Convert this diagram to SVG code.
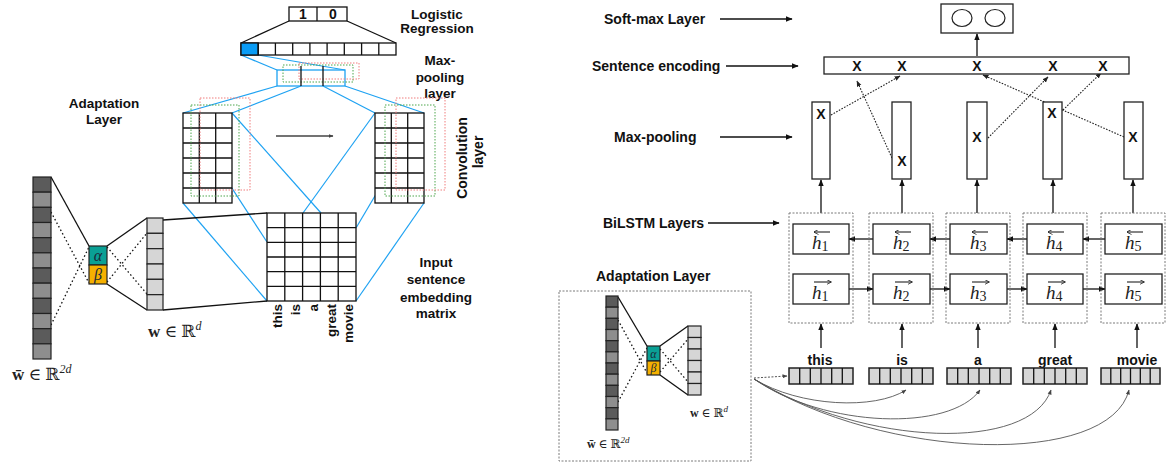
<svg xmlns="http://www.w3.org/2000/svg" width="1166" height="463" viewBox="0 0 1166 463">
<style>
  .lbl { font-family: "Liberation Sans", Arial, sans-serif; font-weight: bold; font-size: 14px; fill: #111; }
  .lbl13 { font-family: "Liberation Sans", Arial, sans-serif; font-weight: bold; font-size: 13.5px; fill: #111; }
  .xm { font-family: "Liberation Sans", Arial, sans-serif; font-weight: bold; font-size: 14px; fill: #111; text-anchor: middle; }
  .math { font-family: "Liberation Serif", "DejaVu Serif", serif; fill: #222; }
  .greek { font-family: "Liberation Serif", "DejaVu Serif", serif; font-style: italic; fill: #1a2a3a; text-anchor: middle; }
  .hv { font-family: "Liberation Serif", "DejaVu Serif", serif; font-style: italic; font-size: 19px; fill: #222; }
  .cell { fill: #fff; stroke: #111; stroke-width: 1.3; }
  .grid { stroke: #111; stroke-width: 1.3; fill: none; }
  .blue { stroke: #1ea2f2; stroke-width: 1.2; fill: none; }
  .blk { stroke: #111; stroke-width: 1.3; fill: none; }
  .dot { stroke: #111; stroke-width: 1.3; stroke-dasharray: 1.5 2.5; fill: none; }
  .dotarr { stroke: #222; stroke-width: 1.1; stroke-dasharray: 1.6 1.4; fill: none; }
  .grn { stroke: #4ca64c; stroke-width: 1; stroke-dasharray: 1.5 1.5; fill: none; }
  .red { stroke: #f07c7c; stroke-width: 1; stroke-dasharray: 1.5 1.5; fill: none; }
  .dk { fill: #5b5b5b; stroke: #222; stroke-width: 1.2; }
  .md { fill: #8e8e8e; stroke: #222; stroke-width: 1.2; }
  .lt { fill: #d6d6d6; stroke: #222; stroke-width: 1.2; }
  .alpha { fill: #0aa095; stroke: #222; stroke-width: 1.2; }
  .beta { fill: #f5b000; stroke: #222; stroke-width: 1.2; }
  .grp { fill: none; stroke: #7a7a7a; stroke-width: 1; stroke-dasharray: 2 1.5; }
  .box { fill: #fff; stroke: #222; stroke-width: 1.3; }
  .tok { fill: #d6d6d6; stroke: #222; stroke-width: 1.5; }
  .curve { stroke: #555; stroke-width: 0.9; fill: none; }
</style>
<defs>
  <marker id="ah" viewBox="0 0 10 10" refX="9" refY="5" markerWidth="7" markerHeight="7" markerUnits="userSpaceOnUse" orient="auto">
    <path d="M0,1 L10,5 L0,9 z" fill="#111"/>
  </marker>
  <marker id="ahs" viewBox="0 0 10 10" refX="9" refY="5" markerWidth="6" markerHeight="6" markerUnits="userSpaceOnUse" orient="auto">
    <path d="M0,1 L10,5 L0,9 z" fill="#222"/>
  </marker>
  <marker id="acc" viewBox="0 0 10 10" refX="9" refY="5" markerWidth="5" markerHeight="5" markerUnits="userSpaceOnUse" orient="auto">
    <path d="M0,0 L10,5 L0,10" fill="none" stroke="#222" stroke-width="1.6"/>
  </marker>
  <marker id="ahg" viewBox="0 0 10 10" refX="9" refY="5" markerWidth="5" markerHeight="5" markerUnits="userSpaceOnUse" orient="auto">
    <path d="M0,1 L10,5 L0,9 z" fill="#444"/>
  </marker>
</defs>

<!-- ============ Left panel: CNN classifier ============ -->
<g id="left-connectors">
  <!-- output box to feature row -->
  <line class="blk" x1="289" y1="21" x2="241" y2="43"/>
  <line class="blk" x1="347" y1="21" x2="396" y2="43"/>
  <!-- pooled cell to max-pooling block -->
  <line class="blue" x1="241" y1="55" x2="277" y2="70"/>
  <line class="blue" x1="258" y1="55" x2="345" y2="70"/>
  <!-- max-pooling block to feature maps -->
  <line class="blue" x1="277" y1="86" x2="183" y2="113"/>
  <line class="blue" x1="301" y1="86" x2="232" y2="113"/>
  <line class="blue" x1="323" y1="86" x2="375" y2="113"/>
  <line class="blue" x1="345" y1="86" x2="424" y2="113"/>
  <!-- feature maps to input matrix -->
  <line class="blue" x1="232" y1="113" x2="321" y2="213"/>
  <line class="blue" x1="183" y1="113" x2="267" y2="242"/>
  <line class="blue" x1="183" y1="203" x2="267" y2="301"/>
  <line class="blue" x1="375" y1="113" x2="303" y2="213"/>
  <line class="blue" x1="424" y1="113" x2="356" y2="228"/>
  <line class="blue" x1="424" y1="203" x2="356" y2="301"/>
  <!-- word vector to input matrix -->
  <line class="blk" x1="163" y1="220" x2="267" y2="213"/>
  <line class="blk" x1="163" y1="310" x2="267" y2="301"/>
  <!-- adaptation layer links -->
  <line class="blk" x1="51" y1="177" x2="89" y2="246"/>
  <line class="blk" x1="107" y1="246" x2="147" y2="218"/>
  <line class="blk" x1="107" y1="284" x2="147" y2="310"/>
  <line class="dot" x1="51" y1="212" x2="89" y2="283"/>
  <line class="dot" x1="51" y1="325" x2="89" y2="247"/>
  <line class="dot" x1="107" y1="247" x2="147" y2="294"/>
  <line class="dot" x1="107" y1="282" x2="147" y2="233"/>
  <!-- sliding direction -->
  <line x1="276" y1="136" x2="333" y2="136" stroke="#444" stroke-width="1.4" marker-end="url(#ahg)"/>
</g>

<g id="logistic-output">
  <rect class="cell" x="289" y="7" width="58" height="14"/>
  <line class="grid" x1="317" y1="7" x2="317" y2="21"/>
  <text class="xm" x="303" y="19">1</text>
  <text class="xm" x="333" y="19">0</text>
  <text class="lbl13" x="437" y="19" text-anchor="middle">Logistic</text>
  <text class="lbl13" x="437" y="33" text-anchor="middle">Regression</text>
</g>

<g id="feature-row">
  <rect class="cell" x="241" y="43" width="155" height="12"/>
  <rect x="241" y="43" width="17.2" height="12" fill="#0a9cf5" stroke="#111" stroke-width="1.3"/>
  <path class="grid" d="M258.2,43V55M275.4,43V55M292.7,43V55M309.9,43V55M327.1,43V55M344.3,43V55M361.6,43V55M378.8,43V55"/>
</g>

<g id="max-pooling">
  <rect x="277" y="70" width="68" height="16" fill="none" stroke="#1ea2f2" stroke-width="1.3"/>
  <rect class="grn" x="283" y="65" width="70" height="17"/>
  <rect class="red" x="299" y="63" width="60" height="16"/>
  <line class="grid" x1="301" y1="66" x2="301" y2="86"/>
  <line class="grid" x1="323" y1="66" x2="323" y2="86"/>
  <text class="lbl13" x="440" y="65" text-anchor="middle">Max-</text>
  <text class="lbl13" x="440" y="82" text-anchor="middle">pooling</text>
  <text class="lbl13" x="440" y="98" text-anchor="middle">layer</text>
</g>

<g id="feature-map-left">
  <rect class="cell" x="183" y="113" width="49" height="90"/>
  <path class="grid" d="M199.3,113V203M215.7,113V203M183,128H232M183,143H232M183,158H232M183,173H232M183,188H232"/>
  <rect class="grn" x="191" y="105" width="48" height="91"/>
  <rect class="red" x="200" y="98" width="50" height="92"/>
</g>

<g id="feature-map-right">
  <rect class="cell" x="375" y="113" width="49" height="90"/>
  <path class="grid" d="M391.3,113V203M407.7,113V203M375,128H424M375,143H424M375,158H424M375,173H424M375,188H424"/>
  <rect class="grn" x="385" y="105" width="50" height="91"/>
  <rect class="red" x="396" y="98" width="49" height="92"/>
  <text class="lbl" transform="translate(467,158) rotate(-90)" text-anchor="middle">Convolution</text>
  <text class="lbl" transform="translate(483,152) rotate(-90)" text-anchor="middle">layer</text>
</g>

<g id="input-matrix">
  <rect class="cell" x="267" y="213" width="89" height="88" fill="none"/>
  <path class="grid" d="M284.8,213V301M302.6,213V301M320.4,213V301M338.2,213V301M267,227.7H356M267,242.3H356M267,257H356M267,271.7H356M267,286.3H356"/>
  <text class="lbl13" transform="translate(282,304) rotate(-90)" text-anchor="end">this</text>
  <text class="lbl13" transform="translate(300,304) rotate(-90)" text-anchor="end">is</text>
  <text class="lbl13" transform="translate(318,304) rotate(-90)" text-anchor="end">a</text>
  <text class="lbl13" transform="translate(336,304) rotate(-90)" text-anchor="end">great</text>
  <text class="lbl13" transform="translate(353,304) rotate(-90)" text-anchor="end">movie</text>
  <text class="lbl13" x="436" y="267" text-anchor="middle">Input</text>
  <text class="lbl13" x="436" y="284" text-anchor="middle">sentence</text>
  <text class="lbl13" x="436" y="302" text-anchor="middle">embedding</text>
  <text class="lbl13" x="436" y="318" text-anchor="middle">matrix</text>
</g>

<g id="adaptation-left">
  <text class="lbl13" x="104" y="108" text-anchor="middle">Adaptation</text>
  <text class="lbl13" x="104" y="124" text-anchor="middle">Layer</text>
  <rect class="dk" x="33" y="177" width="18" height="15.17"/>
  <rect class="md" x="33" y="192.17" width="18" height="15.17"/>
  <rect class="dk" x="33" y="207.33" width="18" height="15.17"/>
  <rect class="md" x="33" y="222.5" width="18" height="15.17"/>
  <rect class="dk" x="33" y="237.67" width="18" height="15.17"/>
  <rect class="md" x="33" y="252.83" width="18" height="15.17"/>
  <rect class="dk" x="33" y="268" width="18" height="15.17"/>
  <rect class="md" x="33" y="283.17" width="18" height="15.17"/>
  <rect class="dk" x="33" y="298.33" width="18" height="15.17"/>
  <rect class="md" x="33" y="313.5" width="18" height="15.17"/>
  <rect class="dk" x="33" y="328.67" width="18" height="15.17"/>
  <rect class="md" x="33" y="343.83" width="18" height="15.17"/>
  <rect class="alpha" x="89" y="246" width="18" height="19"/>
  <rect class="beta" x="89" y="265" width="18" height="19"/>
  <text class="greek" x="98" y="261" font-size="16">α</text>
  <text class="greek" x="98" y="280" font-size="16">β</text>
  <rect class="lt" x="147" y="218" width="16" height="15.33"/>
  <rect class="lt" x="147" y="233.33" width="16" height="15.33"/>
  <rect class="lt" x="147" y="248.67" width="16" height="15.33"/>
  <rect class="lt" x="147" y="264" width="16" height="15.33"/>
  <rect class="lt" x="147" y="279.33" width="16" height="15.33"/>
  <rect class="lt" x="147" y="294.67" width="16" height="15.33"/>
  <text class="math" x="148" y="337" font-size="17"><tspan font-weight="bold">w</tspan> ∈ ℝ<tspan font-size="12" font-style="italic" dy="-7">d</tspan></text>
  <text class="math" x="12" y="380" font-size="17"><tspan font-weight="bold">w̄</tspan> ∈ ℝ<tspan font-size="12" font-style="italic" dy="-7">2d</tspan></text>
</g>

<!-- ============ Right panel: BiLSTM classifier ============ -->
<g id="right-connectors">
  <!-- layer labels pointers -->
  <line class="blk" x1="720" y1="19" x2="792" y2="19" marker-end="url(#ah)"/>
  <line class="blk" x1="726" y1="66" x2="798" y2="66" marker-end="url(#ah)"/>
  <line class="blk" x1="720" y1="137" x2="792" y2="137" marker-end="url(#ah)"/>
  <line class="blk" x1="708" y1="223" x2="779" y2="223" marker-end="url(#ah)"/>
  <!-- encoding to softmax -->
  <line class="blk" x1="977" y1="56" x2="977" y2="34" marker-end="url(#ah)"/>
  <!-- pooled maxima to encoding slots -->
  <line class="dotarr" x1="831" y1="115" x2="900" y2="76" marker-end="url(#ahs)"/>
  <line class="dotarr" x1="892" y1="158" x2="857" y2="81" marker-end="url(#ahs)"/>
  <line class="dotarr" x1="988" y1="138" x2="1048" y2="77" marker-end="url(#ahs)"/>
  <line class="dotarr" x1="1063" y1="110" x2="1101" y2="73" marker-end="url(#ahs)"/>
  <line class="dotarr" x1="1124" y1="137" x2="983" y2="75" marker-end="url(#ahs)"/>
  <!-- BiLSTM to max-pooling -->
  <line class="blk" x1="821" y1="213" x2="821" y2="180" marker-end="url(#ah)"/>
  <line class="blk" x1="902" y1="213" x2="902" y2="180" marker-end="url(#ah)"/>
  <line class="blk" x1="977" y1="213" x2="977" y2="180" marker-end="url(#ah)"/>
  <line class="blk" x1="1053" y1="213" x2="1053" y2="180" marker-end="url(#ah)"/>
  <line class="blk" x1="1133" y1="213" x2="1133" y2="180" marker-end="url(#ah)"/>
  <!-- backward recurrence -->
  <line class="blk" x1="873" y1="239" x2="849" y2="239" marker-end="url(#ah)"/>
  <line class="blk" x1="950" y1="239" x2="930" y2="239" marker-end="url(#ah)"/>
  <line class="blk" x1="1027" y1="239" x2="1007" y2="239" marker-end="url(#ah)"/>
  <line class="blk" x1="1105" y1="239" x2="1083" y2="239" marker-end="url(#ah)"/>
  <!-- forward recurrence -->
  <line class="blk" x1="849" y1="289" x2="873" y2="289" marker-end="url(#ah)"/>
  <line class="blk" x1="930" y1="289" x2="950" y2="289" marker-end="url(#ah)"/>
  <line class="blk" x1="1007" y1="289" x2="1027" y2="289" marker-end="url(#ah)"/>
  <line class="blk" x1="1083" y1="289" x2="1105" y2="289" marker-end="url(#ah)"/>
  <!-- tokens to BiLSTM -->
  <line class="blk" x1="821" y1="348" x2="821" y2="324" marker-end="url(#ah)"/>
  <line class="blk" x1="902" y1="348" x2="902" y2="324" marker-end="url(#ah)"/>
  <line class="blk" x1="978" y1="348" x2="978" y2="324" marker-end="url(#ah)"/>
  <line class="blk" x1="1055" y1="348" x2="1055" y2="324" marker-end="url(#ah)"/>
  <line class="blk" x1="1137" y1="348" x2="1137" y2="324" marker-end="url(#ah)"/>
  <!-- adaptation output to each token vector -->
  <line x1="754" y1="378" x2="787" y2="376" stroke="#555" stroke-width="1" stroke-dasharray="2 1.5" marker-end="url(#ahg)"/>
  <path class="curve" d="M754,379 C800,407 875,410 906,390" marker-end="url(#ahg)"/>
  <path class="curve" d="M754,379 C825,428 950,432 980,390" marker-end="url(#ahg)"/>
  <path class="curve" d="M754,379 C865,447 1030,452 1051,390" marker-end="url(#ahg)"/>
  <path class="curve" d="M754,379 C885,462 1110,467 1129,390" marker-end="url(#ahg)"/>
</g>

<g id="softmax">
  <text class="lbl" x="604" y="24">Soft-max Layer</text>
  <rect class="box" x="941" y="4" width="72" height="29"/>
  <ellipse cx="962" cy="18" rx="10" ry="8.5" fill="none" stroke="#222" stroke-width="1.2"/>
  <ellipse cx="995" cy="18" rx="10" ry="8.5" fill="none" stroke="#222" stroke-width="1.2"/>
</g>

<g id="sentence-encoding">
  <text class="lbl" x="592" y="71">Sentence encoding</text>
  <rect class="box" x="824" y="57" width="305" height="17"/>
  <text class="xm" x="857" y="71">X</text>
  <text class="xm" x="902" y="71">X</text>
  <text class="xm" x="977" y="71">X</text>
  <text class="xm" x="1053" y="71">X</text>
  <text class="xm" x="1103" y="71">X</text>
</g>

<g id="max-pooling-right">
  <text class="lbl" x="614" y="142">Max-pooling</text>
  <rect class="box" x="812" y="102" width="18" height="77"/>
  <rect class="box" x="892" y="102" width="19" height="77"/>
  <rect class="box" x="967" y="102" width="20" height="77"/>
  <rect class="box" x="1043" y="102" width="19" height="77"/>
  <rect class="box" x="1124" y="102" width="19" height="77"/>
  <text class="xm" x="821" y="119">X</text>
  <text class="xm" x="902" y="166">X</text>
  <text class="xm" x="977" y="142">X</text>
  <text class="xm" x="1052" y="118">X</text>
  <text class="xm" x="1133" y="142">X</text>
</g>

<g id="bilstm">
  <text class="lbl" x="603" y="228">BiLSTM Layers</text>
  <rect class="grp" x="789" y="213" width="64" height="110"/>
  <rect class="grp" x="869" y="213" width="64" height="110"/>
  <rect class="grp" x="946" y="213" width="64" height="110"/>
  <rect class="grp" x="1023" y="213" width="64" height="110"/>
  <rect class="grp" x="1101" y="213" width="64" height="110"/>

  <rect class="box" x="793" y="224" width="56" height="30"/>
  <rect class="box" x="793" y="274" width="56" height="30"/>
  <rect class="box" x="873" y="224" width="57" height="30"/>
  <rect class="box" x="873" y="274" width="57" height="30"/>
  <rect class="box" x="950" y="224" width="57" height="30"/>
  <rect class="box" x="950" y="274" width="57" height="30"/>
  <rect class="box" x="1027" y="224" width="56" height="30"/>
  <rect class="box" x="1027" y="274" width="56" height="30"/>
  <rect class="box" x="1105" y="224" width="57" height="30"/>
  <rect class="box" x="1105" y="274" width="57" height="30"/>

  <!-- backward states -->
  <text class="hv" x="812" y="249">h<tspan font-size="14" font-style="normal" dy="2">1</tspan></text>
  <text class="hv" x="893" y="249">h<tspan font-size="14" font-style="normal" dy="2">2</tspan></text>
  <text class="hv" x="970" y="249">h<tspan font-size="14" font-style="normal" dy="2">3</tspan></text>
  <text class="hv" x="1046" y="249">h<tspan font-size="14" font-style="normal" dy="2">4</tspan></text>
  <text class="hv" x="1125" y="249">h<tspan font-size="14" font-style="normal" dy="2">5</tspan></text>
  <line x1="830" y1="232" x2="814" y2="232" stroke="#222" stroke-width="1.1" marker-end="url(#acc)"/>
  <line x1="911" y1="232" x2="895" y2="232" stroke="#222" stroke-width="1.1" marker-end="url(#acc)"/>
  <line x1="988" y1="232" x2="972" y2="232" stroke="#222" stroke-width="1.1" marker-end="url(#acc)"/>
  <line x1="1064" y1="232" x2="1048" y2="232" stroke="#222" stroke-width="1.1" marker-end="url(#acc)"/>
  <line x1="1143" y1="232" x2="1127" y2="232" stroke="#222" stroke-width="1.1" marker-end="url(#acc)"/>

  <!-- forward states -->
  <text class="hv" x="812" y="299">h<tspan font-size="14" font-style="normal" dy="2">1</tspan></text>
  <text class="hv" x="893" y="299">h<tspan font-size="14" font-style="normal" dy="2">2</tspan></text>
  <text class="hv" x="970" y="299">h<tspan font-size="14" font-style="normal" dy="2">3</tspan></text>
  <text class="hv" x="1046" y="299">h<tspan font-size="14" font-style="normal" dy="2">4</tspan></text>
  <text class="hv" x="1125" y="299">h<tspan font-size="14" font-style="normal" dy="2">5</tspan></text>
  <line x1="814" y1="282" x2="831" y2="282" stroke="#222" stroke-width="1.1" marker-end="url(#acc)"/>
  <line x1="895" y1="282" x2="912" y2="282" stroke="#222" stroke-width="1.1" marker-end="url(#acc)"/>
  <line x1="972" y1="282" x2="989" y2="282" stroke="#222" stroke-width="1.1" marker-end="url(#acc)"/>
  <line x1="1048" y1="282" x2="1065" y2="282" stroke="#222" stroke-width="1.1" marker-end="url(#acc)"/>
  <line x1="1127" y1="282" x2="1144" y2="282" stroke="#222" stroke-width="1.1" marker-end="url(#acc)"/>
</g>

<g id="tokens">
  <text class="xm" x="820" y="365">this</text>
  <text class="xm" x="902" y="365">is</text>
  <text class="xm" x="978" y="365">a</text>
  <text class="xm" x="1055" y="365">great</text>
  <text class="xm" x="1137" y="365">movie</text>
  <rect class="tok" x="789" y="368" width="64" height="16"/>
  <path class="grid" d="M799.7,368V384M810.3,368V384M821,368V384M831.7,368V384M842.3,368V384"/>
  <rect class="tok" x="869" y="368" width="64" height="16"/>
  <path class="grid" d="M879.7,368V384M890.3,368V384M901,368V384M911.7,368V384M922.3,368V384"/>
  <rect class="tok" x="947" y="368" width="64" height="16"/>
  <path class="grid" d="M957.7,368V384M968.3,368V384M979,368V384M989.7,368V384M1000.3,368V384"/>
  <rect class="tok" x="1023" y="368" width="64" height="16"/>
  <path class="grid" d="M1033.7,368V384M1044.3,368V384M1055,368V384M1065.7,368V384M1076.3,368V384"/>
  <rect class="tok" x="1101" y="368" width="59" height="16"/>
  <path class="grid" d="M1110.8,368V384M1120.7,368V384M1130.5,368V384M1140.3,368V384M1150.2,368V384"/>
</g>

<g id="adaptation-right">
  <text class="lbl" x="596" y="281">Adaptation Layer</text>
  <rect class="grp" x="559" y="291" width="192" height="170"/>
  <line class="blk" x1="618" y1="297" x2="647" y2="346"/>
  <line class="blk" x1="660" y1="346" x2="688" y2="326"/>
  <line class="blk" x1="660" y1="375" x2="688" y2="395"/>
  <line class="dot" x1="618" y1="320" x2="647" y2="373"/>
  <line class="dot" x1="618" y1="402" x2="647" y2="348"/>
  <line class="dot" x1="660" y1="349" x2="688" y2="382"/>
  <line class="dot" x1="660" y1="372" x2="688" y2="339"/>
  <rect class="dk" x="606" y="296" width="12" height="11.17"/>
  <rect class="md" x="606" y="307.17" width="12" height="11.17"/>
  <rect class="dk" x="606" y="318.33" width="12" height="11.17"/>
  <rect class="md" x="606" y="329.5" width="12" height="11.17"/>
  <rect class="dk" x="606" y="340.67" width="12" height="11.17"/>
  <rect class="md" x="606" y="351.83" width="12" height="11.17"/>
  <rect class="dk" x="606" y="363" width="12" height="11.17"/>
  <rect class="md" x="606" y="374.17" width="12" height="11.17"/>
  <rect class="dk" x="606" y="385.33" width="12" height="11.17"/>
  <rect class="md" x="606" y="396.5" width="12" height="11.17"/>
  <rect class="dk" x="606" y="407.67" width="12" height="11.17"/>
  <rect class="md" x="606" y="418.83" width="12" height="11.17"/>
  <rect class="alpha" x="647" y="346" width="13" height="15"/>
  <rect class="beta" x="647" y="361" width="13" height="14"/>
  <text class="greek" x="653.5" y="358" font-size="12">α</text>
  <text class="greek" x="653.5" y="372" font-size="12">β</text>
  <rect class="lt" x="688" y="326" width="13" height="11.5"/>
  <rect class="lt" x="688" y="337.5" width="13" height="11.5"/>
  <rect class="lt" x="688" y="349" width="13" height="11.5"/>
  <rect class="lt" x="688" y="360.5" width="13" height="11.5"/>
  <rect class="lt" x="688" y="372" width="13" height="11.5"/>
  <rect class="lt" x="688" y="383.5" width="13" height="11.5"/>
  <text class="math" x="690" y="417" font-size="12"><tspan font-weight="bold">w</tspan> ∈ ℝ<tspan font-size="9" font-style="italic" dy="-5">d</tspan></text>
  <text class="math" x="587" y="448" font-size="12"><tspan font-weight="bold">w̄</tspan> ∈ ℝ<tspan font-size="9" font-style="italic" dy="-5">2d</tspan></text>
</g>
</svg>
